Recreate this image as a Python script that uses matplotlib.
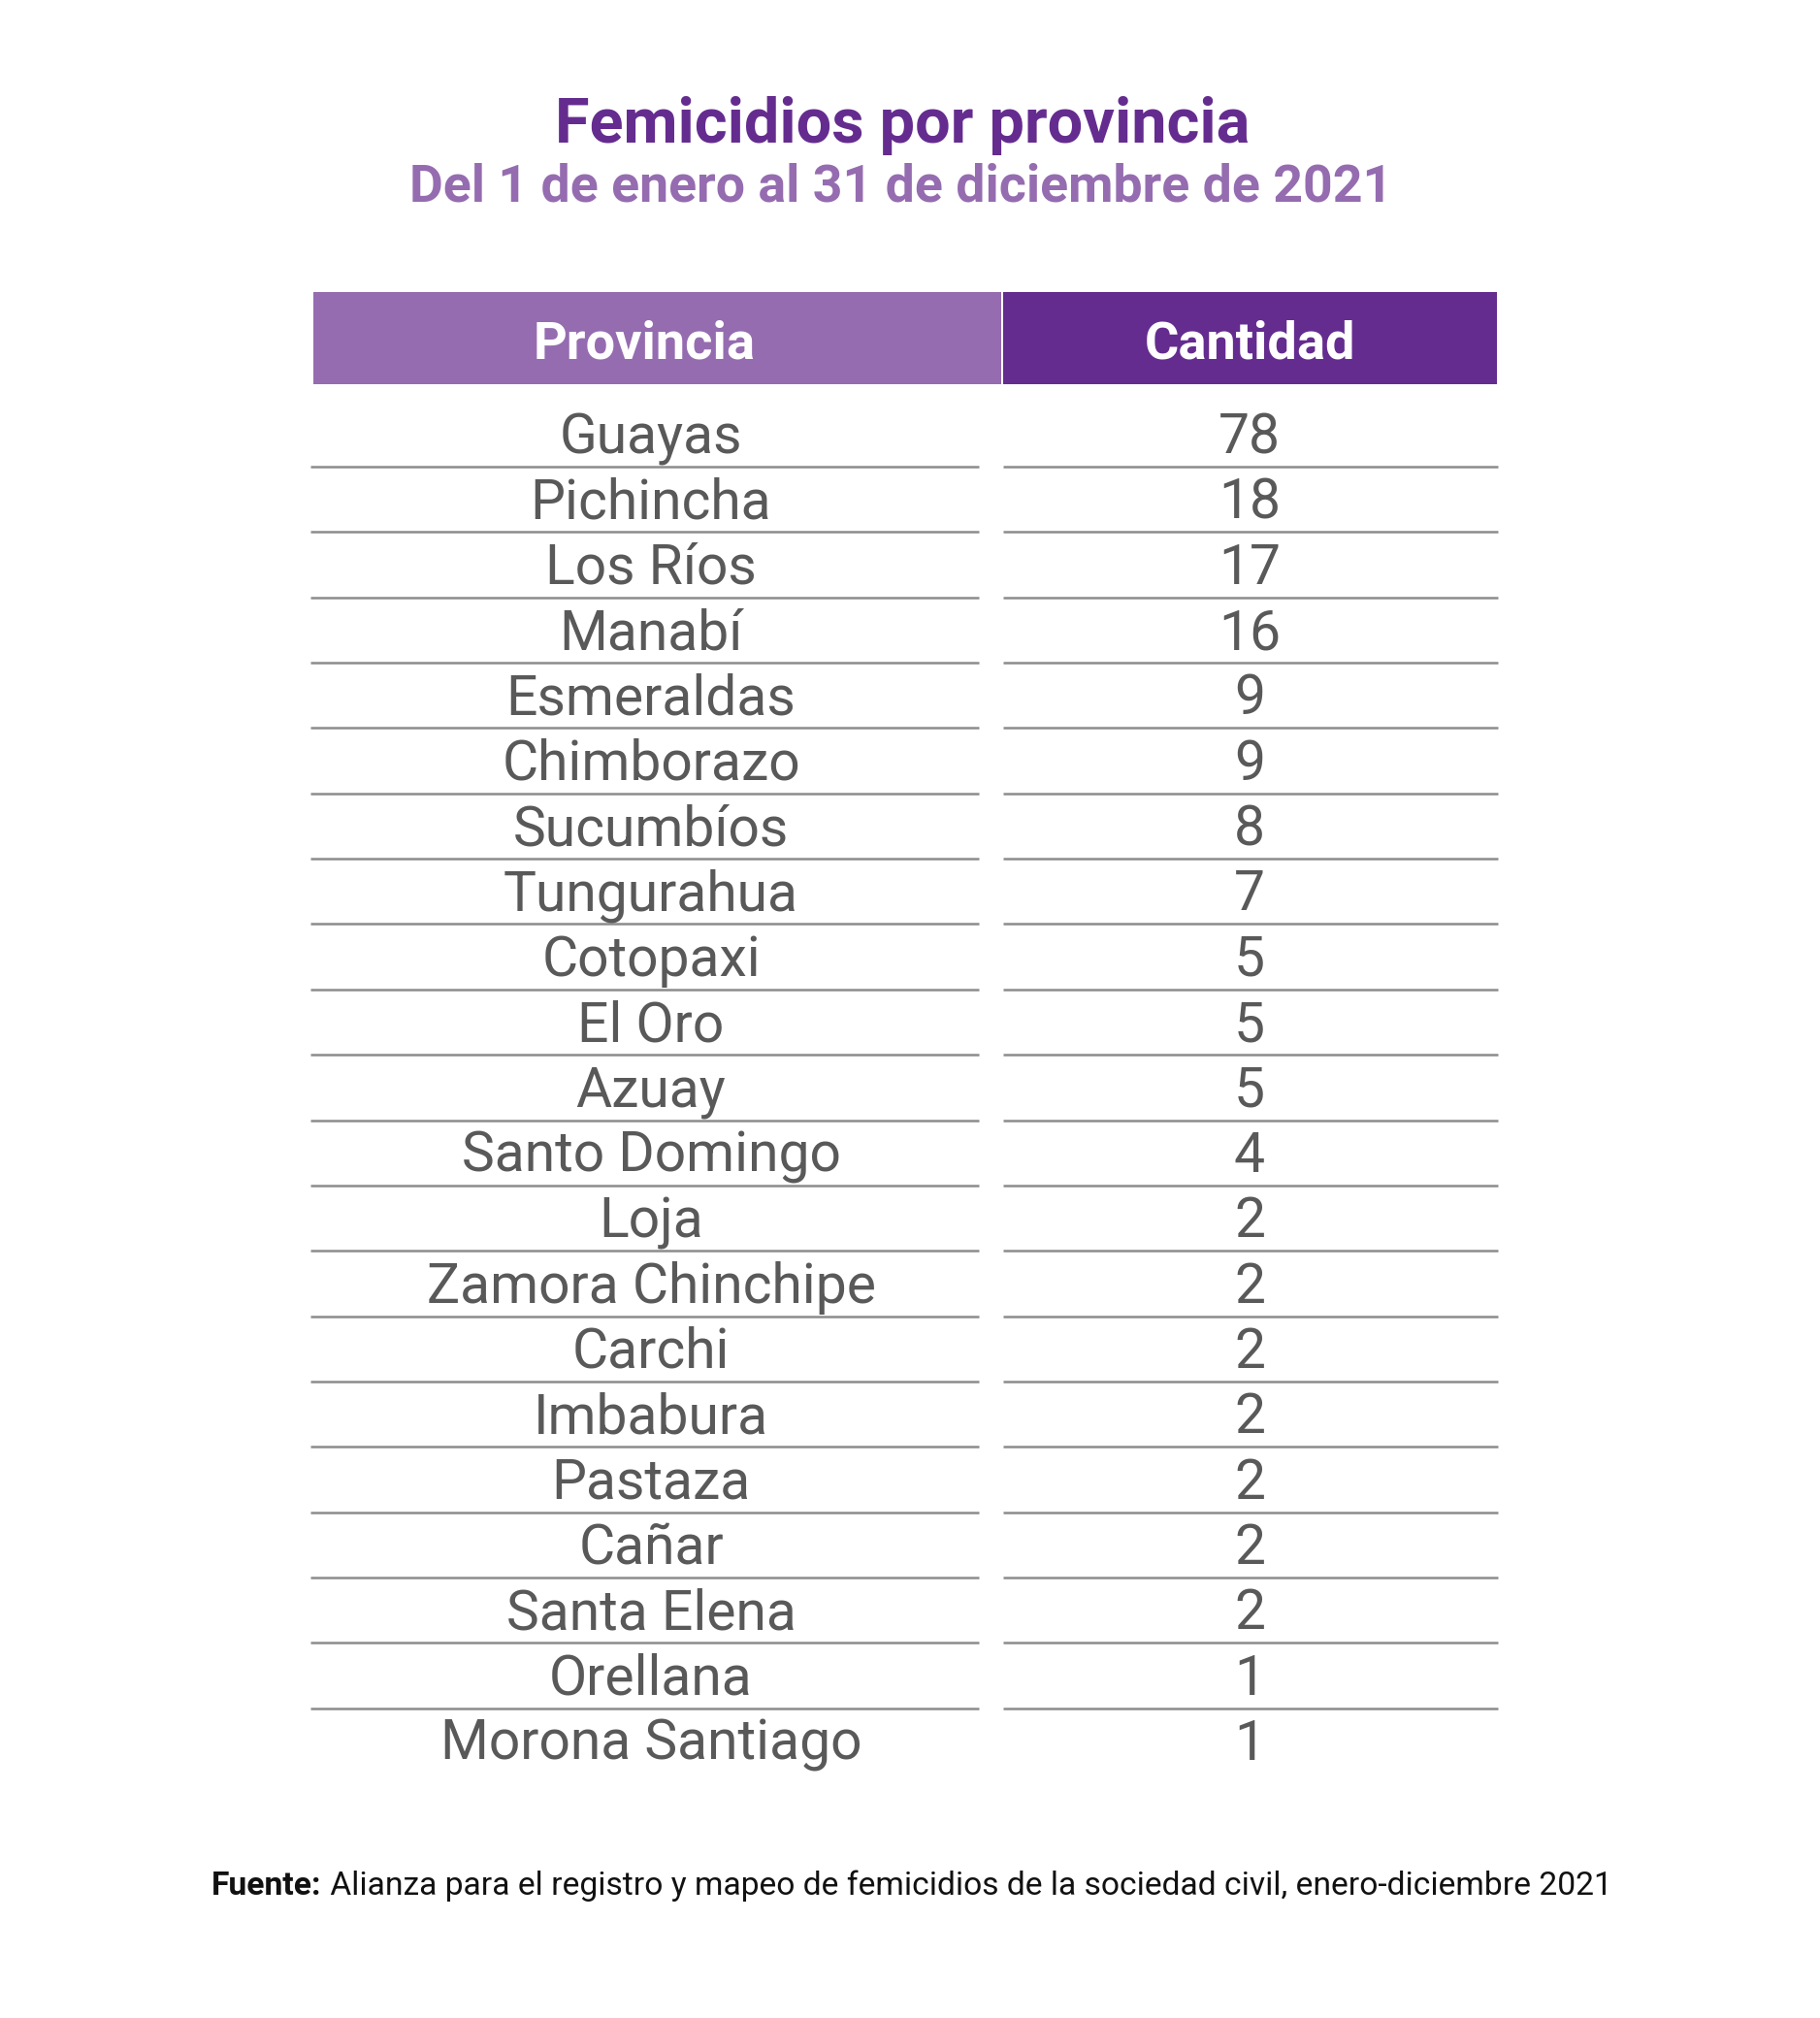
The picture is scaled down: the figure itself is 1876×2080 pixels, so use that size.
"""Tabla: femicidios por provincia, Ecuador 2021 (1 ene - 31 dic).

Writes out.png (1876 x 2080 px).
"""

import matplotlib.pyplot as plt
from matplotlib.patches import Rectangle

plt.rcParams["font.family"] = ["Roboto", "DejaVu Sans"]

TITLE = "Femicidios por provincia"
SUBTITLE = "Del 1 de enero al 31 de diciembre de 2021"
HEADERS = ["Provincia", "Cantidad"]
PROVINCIAS = [
    "Guayas", "Pichincha", "Los Ríos", "Manabí", "Esmeraldas", "Chimborazo",
    "Sucumbíos", "Tungurahua", "Cotopaxi", "El Oro", "Azuay", "Santo Domingo",
    "Loja", "Zamora Chinchipe", "Carchi", "Imbabura", "Pastaza", "Cañar",
    "Santa Elena", "Orellana", "Morona Santiago",
]
CANTIDAD = [78, 18, 17, 16, 9, 9, 8, 7, 5, 5, 5, 4, 2, 2, 2, 2, 2, 2, 2, 1, 1]
FUENTE_BOLD = "Fuente:"
FUENTE = "Alianza para el registro y mapeo de femicidios de la sociedad civil, enero-diciembre 2021"

# colours
DARK_PURPLE = "#652C8F"
LIGHT_PURPLE = "#956CB0"
ROW_TEXT = "#595959"
RULE = "#8C8C8C"

# layout, in pixels (axes spans the whole canvas, y downwards)
W, H = 1876, 2080
LEFT_BOX = (323, 1032)
RIGHT_BOX = (1034, 1543)
HEAD_TOP, HEAD_BOT = 301, 396
LEFT_RULE = (320, 1009)
RIGHT_RULE = (1034, 1544)
NAME_X, NUM_X = 671, 1288
ROW0_BASE = 467      # baseline of the first row
RULE_GAP = 14        # rule sits this far below the baseline
PITCH = 67.35


def main() -> None:
    fig = plt.figure(figsize=(W / 100, H / 100), dpi=100)
    ax = fig.add_axes([0, 0, 1, 1])
    ax.set_xlim(0, W)
    ax.set_ylim(H, 0)
    ax.axis("off")

    ax.text(930, 147, TITLE, ha="center", va="baseline", fontsize=46.6,
            fontweight="bold", color=DARK_PURPLE)
    ax.text(929, 208, SUBTITLE, ha="center", va="baseline", fontsize=38.6,
            fontweight="bold", color=LIGHT_PURPLE)

    # header cells
    for (x0, x1), col in ((LEFT_BOX, LIGHT_PURPLE), (RIGHT_BOX, DARK_PURPLE)):
        ax.add_patch(Rectangle((x0, HEAD_TOP), x1 - x0, HEAD_BOT - HEAD_TOP,
                               facecolor=col, edgecolor="none"))
    ax.text(664, 369, HEADERS[0], ha="center", va="baseline", fontsize=39,
            fontweight="bold", color="white")
    ax.text(NUM_X, 369, HEADERS[1], ha="center", va="baseline", fontsize=39,
            fontweight="bold", color="white")

    # body rows
    n = len(PROVINCIAS)
    for i, (name, val) in enumerate(zip(PROVINCIAS, CANTIDAD)):
        base = ROW0_BASE + i * PITCH
        ax.text(NAME_X, base, name, ha="center", va="baseline", fontsize=41,
                color=ROW_TEXT)
        ax.text(NUM_X, base, str(val), ha="center", va="baseline",
                fontsize=41, color=ROW_TEXT)
        if i < n - 1:
            y = base + RULE_GAP
            ax.plot(LEFT_RULE, (y, y), color=RULE, linewidth=1.8,
                    solid_capstyle="butt")
            ax.plot(RIGHT_RULE, (y, y), color=RULE, linewidth=1.8,
                    solid_capstyle="butt")

    # source line: bold lead-in followed by regular text
    t1 = ax.text(218, 1953, FUENTE_BOLD, ha="left", va="baseline",
                 fontsize=24.2, fontweight="bold", color="#111111")
    ax.annotate(" " + FUENTE, xy=(1, 0), xycoords=t1, ha="left",
                va="bottom", fontsize=24.2, color="#111111")

    fig.savefig("out.png", dpi=100, facecolor="white")


if __name__ == "__main__":
    main()
